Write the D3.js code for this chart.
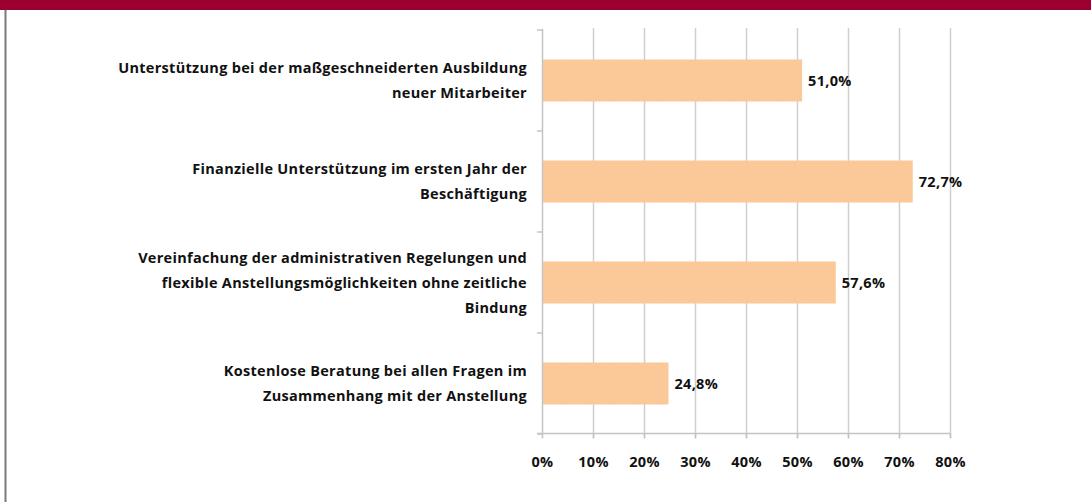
<!DOCTYPE html>
<html>
<head>
<meta charset="utf-8">
<script src="https://cdn.jsdelivr.net/npm/d3@7"></script>
<style>
  body { margin: 0; background: #fff; }
  svg { display: block; }
  text { font-family: "Open Sans", sans-serif; font-weight: 700; fill: #111; letter-spacing: 0.3px; }
</style>
</head>
<body>
<script>
'use strict';

// categories (line breaks as in the reference)
const categories = [
  "Unterstützung bei der maßgeschneiderten Ausbildung\nneuer Mitarbeiter",
  "Finanzielle Unterstützung im ersten Jahr der\nBeschäftigung",
  "Vereinfachung der administrativen Regelungen und\nflexible Anstellungsmöglichkeiten ohne zeitliche\nBindung",
  "Kostenlose Beratung bei allen Fragen im\nZusammenhang mit der Anstellung"
];
const values = [51.0, 72.7, 57.6, 24.8];
const valueLabels = ["51,0%", "72,7%", "57,6%", "24,8%"];
const xTicks = [0, 10, 20, 30, 40, 50, 60, 70, 80];
const xTickLabels = ["0%", "10%", "20%", "30%", "40%", "50%", "60%", "70%", "80%"];

const width = 1091, height = 502;

const svg = d3.select("body").append("svg")
  .attr("width", width)
  .attr("height", height);

// bar pattern: orange fill with pale dots
const defs = svg.append("defs");
const pat = defs.append("pattern")
  .attr("id", "dots")
  .attr("patternUnits", "userSpaceOnUse")
  .attr("width", 6)
  .attr("height", 8);
pat.append("rect").attr("width", 6).attr("height", 8).attr("fill", "#fdc898");
pat.append("rect").attr("x", 2).attr("y", 3).attr("width", 1).attr("height", 1).attr("fill", "#c4cfbf");

// header band and left border
svg.append("rect")
  .attr("x", 0).attr("y", 0)
  .attr("width", width).attr("height", 10)
  .attr("fill", "#9b0031");
svg.append("line")
  .attr("x1", 5.5).attr("x2", 5.5)
  .attr("y1", 10).attr("y2", height)
  .attr("stroke", "#7a7a7a")
  .attr("stroke-width", 2);

const x = d3.scaleLinear()
  .domain([0, 80])
  .range([542, 950]);

const y = d3.scaleBand()
  .domain(categories)
  .range([30, 434])
  .paddingInner(0.584)
  .paddingOuter(0.292);

// vertical gridlines
svg.append("g")
  .selectAll("line")
  .data(xTicks.slice(1))
  .join("line")
  .attr("x1", d => x(d) + 0.5)
  .attr("x2", d => x(d) + 0.5)
  .attr("y1", 28)
  .attr("y2", 438)
  .attr("stroke", "#cfcfcf")
  .attr("stroke-width", 1.5);

// bars
svg.append("g")
  .selectAll("rect")
  .data(values)
  .join("rect")
  .attr("x", x(0))
  .attr("y", (d, i) => y(categories[i]))
  .attr("width", d => x(d) - x(0))
  .attr("height", y.bandwidth())
  .attr("fill", "url(#dots)");

// value labels
svg.append("g")
  .selectAll("text")
  .data(values)
  .join("text")
  .attr("x", d => x(d) + 6)
  .attr("y", (d, i) => y(categories[i]) + y.bandwidth() / 2)
  .attr("dy", "0.35em")
  .style("font-size", "14.5px")
  .text((d, i) => valueLabels[i]);

// x axis
const xAxis = d3.axisBottom(x)
  .tickValues(xTicks)
  .tickSize(5)
  .tickPadding(18)
  .tickFormat((d, i) => xTickLabels[i]);
const gx = svg.append("g")
  .attr("transform", "translate(0,433.5)")
  .call(xAxis);
gx.select(".domain").remove();
gx.append("line")
  .attr("x1", 537).attr("x2", 950)
  .attr("stroke", "#c4c4c4").attr("stroke-width", 1.5);
gx.selectAll(".tick line").attr("stroke", "#c4c4c4").attr("stroke-width", 1.5);
gx.selectAll(".tick text")
  .style("font-family", "\"Open Sans\", sans-serif")
  .style("font-weight", 700)
  .style("font-size", "14.5px")
  .attr("fill", "#111");

// y axis (category boundaries as ticks)
const boundaries = categories.map(c => y(c) - y.step() * y.paddingInner() / 2);
boundaries.push(434);
const gy = svg.append("g");
gy.append("line")
  .attr("x1", x(0) + 0.5).attr("x2", x(0) + 0.5)
  .attr("y1", 29).attr("y2", 434)
  .attr("stroke", "#c4c4c4").attr("stroke-width", 1.5);
gy.selectAll("line.tick")
  .data(boundaries)
  .join("line")
  .attr("class", "tick")
  .attr("x1", x(0) - 5).attr("x2", x(0))
  .attr("y1", d => d).attr("y2", d => d)
  .attr("stroke", "#c4c4c4").attr("stroke-width", 1.5);

// category labels, right aligned, multi-line
const lineH = 25;
const labels = svg.append("g")
  .selectAll("text")
  .data(categories)
  .join("text")
  .attr("text-anchor", "end")
  .style("font-size", "14.5px")
  .attr("transform", d => `translate(527,${y(d) + y.bandwidth() / 2})`);
labels.each(function (d) {
  const lines = d.split("\n");
  const t = d3.select(this);
  lines.forEach((ln, k) => {
    t.append("tspan")
      .attr("x", 0)
      .attr("y", (k - (lines.length - 1) / 2) * lineH)
      .attr("dy", "0.35em")
      .text(ln);
  });
});
</script>
</body>
</html>
